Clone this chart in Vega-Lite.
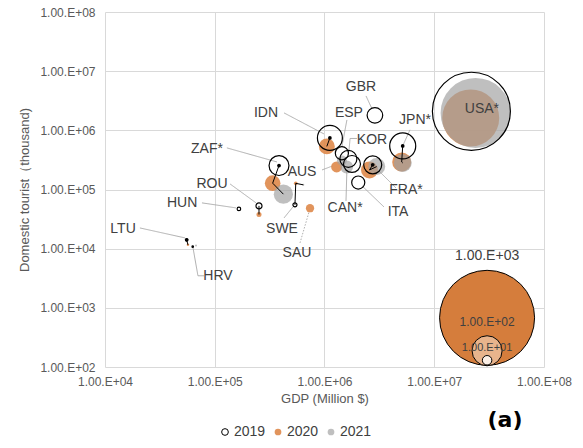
{
  "$schema": "https://vega.github.io/schema/vega-lite/v6.json",
  "width": 439,
  "height": 355,
  "autosize": "none",
  "padding": {"left": 105, "top": 12, "right": 39, "bottom": 81},
  "background": "white",
  "title": {
    "text": "(a)",
    "orient": "bottom",
    "anchor": "end",
    "font": "DejaVu Sans",
    "fontSize": 22,
    "fontWeight": "bold",
    "color": "black",
    "offset": -29,
    "dx": -49
  },
  "datasets": {
    "points": [
      {"country": "USA", "year": "2019", "gdp": 21800000, "tourist": 2100000, "size": 674},
      {"country": "JPN", "year": "2019", "gdp": 5160000, "tourist": 545000, "size": 75},
      {"country": "IDN", "year": "2019", "gdp": 1120000, "tourist": 744000, "size": 69},
      {"country": "GBR", "year": "2019", "gdp": 2880000, "tourist": 1790000, "size": 27},
      {"country": "ESP", "year": "2019", "gdp": 1440000, "tourist": 410000, "size": 19},
      {"country": "KOR", "year": "2019", "gdp": 1650000, "tourist": 329000, "size": 32},
      {"country": "CAN", "year": "2019", "gdp": 1780000, "tourist": 270000, "size": 32},
      {"country": "FRA", "year": "2019", "gdp": 2750000, "tourist": 261000, "size": 36},
      {"country": "ITA", "year": "2019", "gdp": 2030000, "tourist": 131000, "size": 19},
      {"country": "ZAF", "year": "2019", "gdp": 385000, "tourist": 254000, "size": 44},
      {"country": "SWE", "year": "2019", "gdp": 538000, "tourist": 55000, "size": 1.8},
      {"country": "ROU", "year": "2019", "gdp": 253000, "tourist": 52800, "size": 4},
      {"country": "HUN", "year": "2019", "gdp": 166000, "tourist": 47000, "size": 1.4},
      {"country": "LTU", "year": "2019", "gdp": 55500, "tourist": 14100, "size": 0.44},
      {"country": "HRV", "year": "2019", "gdp": 63000, "tourist": 10800, "size": 0.25},
      {"country": "USA", "year": "2020", "gdp": 21500000, "tourist": 1620000, "size": 360},
      {"country": "JPN", "year": "2020", "gdp": 5050000, "tourist": 292000, "size": 40},
      {"country": "IDN", "year": "2020", "gdp": 1050000, "tourist": 535000, "size": 28},
      {"country": "AUS", "year": "2020", "gdp": 1290000, "tourist": 241000, "size": 13.4},
      {"country": "FRA", "year": "2020", "gdp": 2570000, "tourist": 214000, "size": 32},
      {"country": "ZAF", "year": "2020", "gdp": 337000, "tourist": 128000, "size": 27},
      {"country": "SWE", "year": "2020", "gdp": 547000, "tourist": 127000, "size": 1.5},
      {"country": "SAU", "year": "2020", "gdp": 738000, "tourist": 48300, "size": 7.6},
      {"country": "ROU", "year": "2020", "gdp": 253000, "tourist": 37800, "size": 2.8},
      {"country": "LTU", "year": "2020", "gdp": 57000, "tourist": 11600, "size": 0.7},
      {"country": "USA", "year": "2021", "gdp": 23800000, "tourist": 1970000, "size": 543},
      {"country": "JPN", "year": "2021", "gdp": 5160000, "tourist": 281000, "size": 36},
      {"country": "ESP", "year": "2021", "gdp": 1440000, "tourist": 310000, "size": 11},
      {"country": "AUS", "year": "2021", "gdp": 1590000, "tourist": 241000, "size": 18.7},
      {"country": "FRA", "year": "2021", "gdp": 2990000, "tourist": 244000, "size": 32},
      {"country": "ZAF", "year": "2021", "gdp": 422000, "tourist": 83400, "size": 41},
      {"country": "SWE", "year": "2021", "gdp": 641000, "tourist": 120000, "size": 0.44},
      {"country": "HRV", "year": "2021", "gdp": 67500, "tourist": 11300, "size": 0.44}
    ],
    "labels": [
      {"label": "GBR", "gdp": 2150000, "tourist": 5410000},
      {"label": "ESP", "gdp": 1670000, "tourist": 1970000},
      {"label": "IDN", "gdp": 293000, "tourist": 1970000},
      {"label": "JPN*", "gdp": 6680000, "tourist": 1500000},
      {"label": "KOR", "gdp": 2710000, "tourist": 689000},
      {"label": "ZAF*", "gdp": 84900, "tourist": 485000},
      {"label": "AUS", "gdp": 624000, "tourist": 198000},
      {"label": "ROU", "gdp": 94400, "tourist": 124000},
      {"label": "FRA*", "gdp": 5530000, "tourist": 98400},
      {"label": "HUN", "gdp": 50400, "tourist": 59400},
      {"label": "CAN*", "gdp": 1540000, "tourist": 48900},
      {"label": "ITA", "gdp": 4680000, "tourist": 41900},
      {"label": "LTU", "gdp": 14600, "tourist": 21600},
      {"label": "SWE", "gdp": 410000, "tourist": 21600},
      {"label": "SAU", "gdp": 561000, "tourist": 8490},
      {"label": "HRV", "gdp": 107000, "tourist": 3480},
      {"label": "USA*", "gdp": 27200000, "tourist": 2300000}
    ],
    "leaders": [
      {"country": "GBR", "gdp": 2390000, "tourist": 3810000, "gdp2": 2710000, "tourist2": 2300000},
      {"country": "ESP", "gdp": 1600000, "tourist": 1500000, "gdp2": 1440000, "tourist2": 525000},
      {"country": "IDN", "gdp": 428000, "tourist": 1970000, "gdp2": 989000, "tourist2": 869000},
      {"country": "JPN", "gdp": 6010000, "tourist": 1020000, "gdp2": 5160000, "tourist2": 545000},
      {"country": "KOR", "gdp": 1980000, "tourist": 729000, "gdp2": 1710000, "tourist2": 729000},
      {"country": "KOR", "gdp": 1710000, "tourist": 729000, "gdp2": 1670000, "tourist2": 449000},
      {"country": "ZAF", "gdp": 129000, "tourist": 505000, "gdp2": 369000, "tourist2": 292000},
      {"country": "AUS", "gdp": 949000, "tourist": 214000, "gdp2": 1190000, "tourist2": 251000},
      {"country": "ROU", "gdp": 138000, "tourist": 124000, "gdp2": 238000, "tourist2": 59400},
      {"country": "FRA", "gdp": 4480000, "tourist": 106000, "gdp2": 3070000, "tourist2": 214000},
      {"country": "HUN", "gdp": 76500, "tourist": 59400, "gdp2": 156000, "tourist2": 48900},
      {"country": "CAN", "gdp": 1570000, "tourist": 64100, "gdp2": 1600000, "tourist2": 214000},
      {"country": "ITA", "gdp": 3480000, "tourist": 50800, "gdp2": 2200000, "tourist2": 115000},
      {"country": "LTU", "gdp": 20800, "tourist": 22400, "gdp2": 53600, "tourist2": 15200},
      {"country": "SWE", "gdp": 428000, "tourist": 33100, "gdp2": 516000, "tourist2": 50800},
      {"country": "SAU", "gdp": 598000, "tourist": 12500, "gdp2": 723000, "tourist2": 41900},
      {"country": "HRV", "gdp": 79800, "tourist": 3480, "gdp2": 70300, "tourist2": 3480},
      {"country": "HRV", "gdp": 70300, "tourist": 3480, "gdp2": 63400, "tourist2": 10300}
    ],
    "bubbleKey": [
      {"v": 1000, "gdp": 30300000, "tourist": 678, "text": "1.00.E+03", "textY": 7550},
      {"v": 100, "gdp": 30300000, "tourist": 188, "text": "1.00.E+02", "textY": 581},
      {"v": 10, "gdp": 30300000, "tourist": 130, "text": "1.00.E+01", "textY": 211}
    ]
  },
  "encoding": {
    "x": {
      "field": "gdp",
      "type": "quantitative",
      "title": "GDP (Million $)",
      "scale": {"type": "log", "domain": [10000, 100000000], "nice": false},
      "axis": {
        "values": [10000, 100000, 1000000, 10000000, 100000000],
        "labelExpr": "'1.00.E+0' + format(log(datum.value) / LN10, '.0f')",
        "labelFlush": false,
        "labelOverlap": false,
        "labelPadding": 9,
        "titlePadding": 5
      }
    },
    "y": {
      "field": "tourist",
      "type": "quantitative",
      "title": "Domestic tourist（thousand)",
      "scale": {"type": "log", "domain": [100, 100000000], "nice": false},
      "axis": {
        "values": [100, 1000, 10000, 100000, 1000000, 10000000, 100000000],
        "labelExpr": "'1.00.E+0' + format(log(datum.value) / LN10, '.0f')",
        "labelFlush": false,
        "labelOverlap": false,
        "labelPadding": 10,
        "titlePadding": 8
      }
    }
  },
  "layer": [
    {
      "data": {"name": "leaders"},
      "mark": {"type": "rule", "color": "#A6A6A6", "strokeWidth": 0.9},
      "encoding": {
        "x2": {"field": "gdp2"},
        "y2": {"field": "tourist2"},
        "strokeDash": {"condition": {"test": "datum.country === 'SAU'", "value": [1.5, 1.5]}, "value": [1, 0]}
      }
    },
    {
      "data": {"name": "points"},
      "transform": [{"filter": "datum.year === '2020'"}],
      "mark": {"type": "point", "shape": "circle", "filled": true, "opacity": 1, "strokeWidth": 1.2},
      "encoding": {
        "size": {"field": "size", "type": "quantitative", "scale": {"type": "linear", "domain": [0, 1000], "range": [0, 9025], "zero": true}, "legend": null},
        "fill": {"field": "year", "type": "nominal", "scale": {"domain": ["2019", "2020", "2021"], "range": ["rgba(255,255,255,0)", "rgba(221,133,70,0.88)", "rgba(160,160,160,0.68)"]}, "legend": {"title": null}},
        "stroke": {"field": "year", "type": "nominal", "scale": {"domain": ["2019", "2020", "2021"], "range": ["black", "rgba(0,0,0,0)", "rgba(0,0,0,0)"]}, "legend": {"title": null}}
      }
    },
    {
      "data": {"name": "points"},
      "transform": [{"filter": "datum.year === '2021'"}],
      "mark": {"type": "point", "shape": "circle", "filled": true, "opacity": 1, "strokeWidth": 1.2},
      "encoding": {
        "size": {"field": "size", "type": "quantitative", "legend": null},
        "fill": {"field": "year", "type": "nominal", "legend": {"title": null}},
        "stroke": {"field": "year", "type": "nominal", "legend": {"title": null}}
      }
    },
    {
      "data": {"name": "points"},
      "transform": [{"filter": "datum.year === '2019'"}],
      "mark": {"type": "point", "shape": "circle", "filled": true, "opacity": 1, "strokeWidth": 1.2},
      "encoding": {
        "size": {"field": "size", "type": "quantitative", "legend": null},
        "fill": {"field": "year", "type": "nominal", "legend": {"title": null}},
        "stroke": {"field": "year", "type": "nominal", "legend": {"title": null}}
      }
    },
    {
      "data": {"name": "points"},
      "transform": [{"filter": {"field": "country", "oneOf": ["IDN", "JPN", "ZAF", "FRA", "SWE", "ROU", "LTU"]}}],
      "mark": {"type": "line", "color": "black", "strokeWidth": 1},
      "encoding": {
        "detail": {"field": "country"},
        "order": {"field": "year"}
      }
    },
    {
      "data": {"name": "points"},
      "transform": [{"filter": "datum.year === '2019'"}, {"filter": {"field": "country", "oneOf": ["IDN", "JPN", "ZAF", "FRA", "LTU"]}}],
      "mark": {"type": "point", "shape": "circle", "filled": true, "opacity": 1, "color": "black", "size": 14}
    },
    {
      "data": {"name": "labels"},
      "mark": {"type": "text", "font": "Liberation Sans", "fontSize": 14, "color": "#404040", "align": "center", "baseline": "middle"},
      "encoding": {"text": {"field": "label"}}
    },
    {
      "data": {"name": "bubbleKey"},
      "transform": [{"filter": "datum.v === 1000"}],
      "mark": {"type": "point", "shape": "circle", "filled": true, "opacity": 1, "fill": "#D57D3C", "stroke": "black", "strokeWidth": 1},
      "encoding": {"size": {"field": "v", "type": "quantitative", "legend": null}}
    },
    {
      "data": {"name": "bubbleKey"},
      "transform": [{"filter": "datum.v === 100"}],
      "mark": {"type": "point", "shape": "circle", "filled": true, "opacity": 1, "fill": "#E8B48C", "stroke": "black", "strokeWidth": 1},
      "encoding": {"size": {"field": "v", "type": "quantitative", "legend": null}}
    },
    {
      "data": {"name": "bubbleKey"},
      "transform": [{"filter": "datum.v === 10"}],
      "mark": {"type": "point", "shape": "circle", "filled": true, "opacity": 1, "fill": "#FBEFE6", "stroke": "black", "strokeWidth": 1},
      "encoding": {"size": {"field": "v", "type": "quantitative", "legend": null}}
    },
    {
      "data": {"name": "bubbleKey"},
      "mark": {"type": "text", "font": "Liberation Sans", "color": "#404040", "align": "center", "baseline": "middle"},
      "encoding": {
        "y": {"field": "textY", "type": "quantitative"},
        "text": {"field": "text"},
        "size": {"condition": [{"test": "datum.v === 1000", "value": 14}, {"test": "datum.v === 10", "value": 11}], "value": 12}
      }
    }
  ],
  "config": {
    "view": {"stroke": null},
    "font": "Liberation Sans",
    "axis": {
      "grid": true,
      "gridColor": "#D9D9D9",
      "gridWidth": 1,
      "domain": false,
      "ticks": false,
      "labelFont": "Liberation Sans",
      "labelFontSize": 12,
      "labelColor": "#595959",
      "titleFont": "Liberation Sans",
      "titleFontSize": 13,
      "titleFontWeight": "normal",
      "titleColor": "#595959"
    },
    "legend": {
      "orient": "none",
      "legendX": 113,
      "legendY": 413,
      "direction": "horizontal",
      "padding": 0,
      "labelFont": "Liberation Sans",
      "labelFontSize": 14,
      "labelColor": "#404040",
      "symbolSize": 45,
      "symbolStrokeWidth": 1,
      "labelOffset": 2,
      "columnPadding": 5
    }
  }
}
